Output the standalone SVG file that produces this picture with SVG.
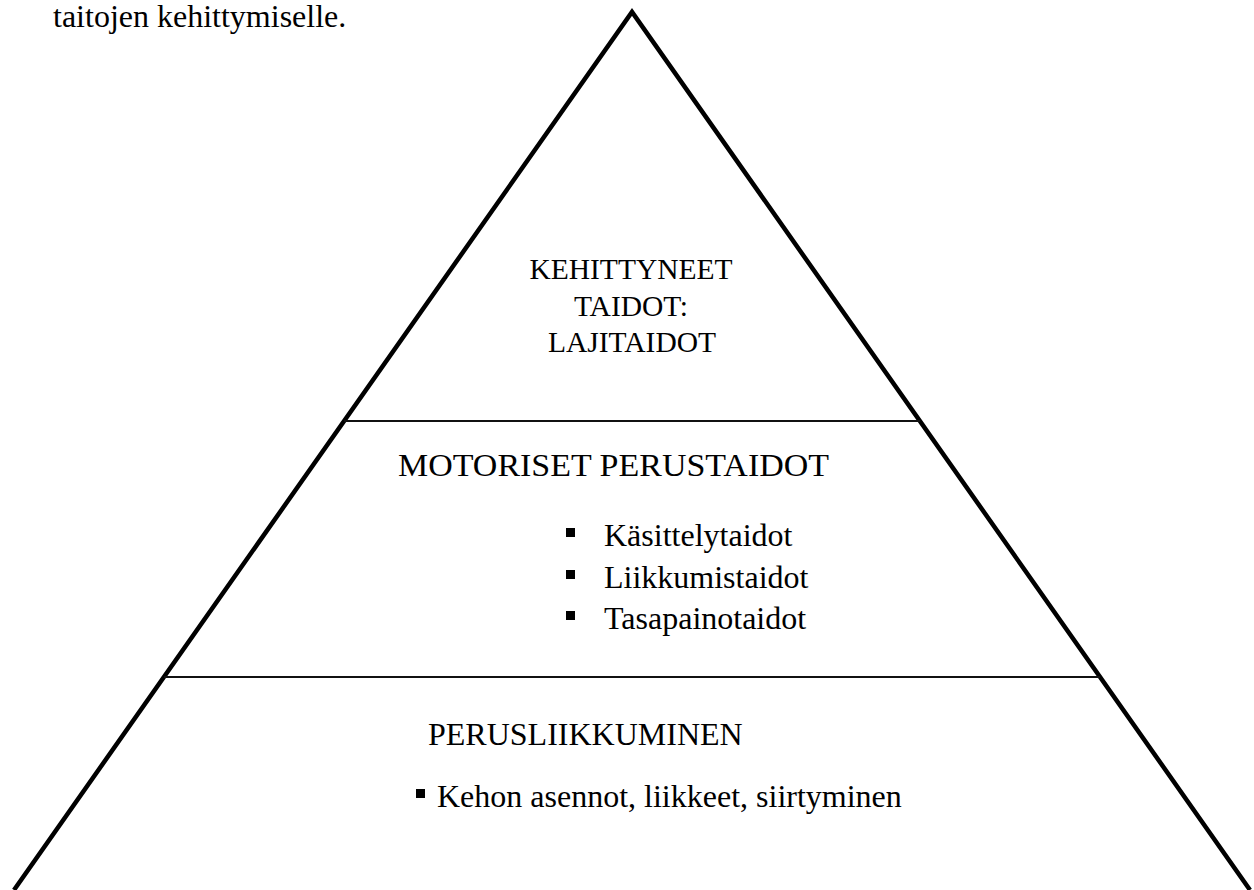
<svg xmlns="http://www.w3.org/2000/svg" width="1254" height="890" viewBox="0 0 1254 890">
<style>
.t{font-family:"Liberation Serif","Times New Roman",serif;font-size:32px;fill:#000}
.s{font-size:29.5px}
.c{text-anchor:middle}
.edge{stroke:#000;stroke-width:4.5;fill:none;stroke-linejoin:miter}
.div{stroke:#111;stroke-width:2;fill:none}
.b{fill:#000}
</style>
<rect width="1254" height="890" fill="#fff"/>
<text class="t" x="53" y="27">taitojen kehittymiselle.</text>
<g id="connectors">
<polyline class="edge" points="14,890 632,12 1250,890"/>
<line class="div" x1="344" y1="421" x2="920" y2="421"/>
<line class="div" x1="164" y1="677" x2="1100" y2="677"/>
</g>
<g id="top">
<text class="t s c" x="631" y="279">KEHITTYNEET</text>
<text class="t s c" x="631" y="316">TAIDOT:</text>
<text class="t s c" x="632" y="352">LAJITAIDOT</text>
</g>
<g id="middle">
<text class="t" x="398" y="476" textLength="431" lengthAdjust="spacingAndGlyphs">MOTORISET PERUSTAIDOT</text>
<rect class="b" x="566" y="528" width="9" height="9"/>
<rect class="b" x="566" y="570" width="9" height="9"/>
<rect class="b" x="566" y="611" width="9" height="9"/>
<text class="t" x="604" y="546">Käsittelytaidot</text>
<text class="t" x="604" y="588">Liikkumistaidot</text>
<text class="t" x="604" y="629">Tasapainotaidot</text>
</g>
<g id="bottom">
<text class="t" x="428" y="745">PERUSLIIKKUMINEN</text>
<rect class="b" x="416" y="789" width="9" height="9"/>
<text class="t" x="437" y="807">Kehon asennot, liikkeet, siirtyminen</text>
</g>
</svg>
